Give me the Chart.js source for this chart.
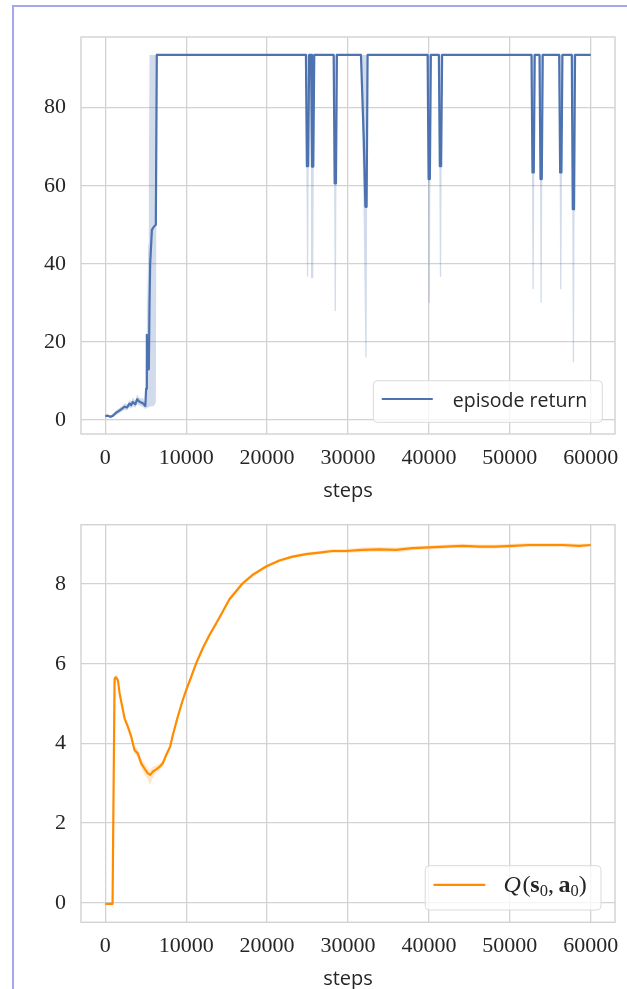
<!DOCTYPE html>
<html>
<head>
<meta charset="utf-8">
<script src="https://cdn.jsdelivr.net/npm/chart.js@4.4.1/dist/chart.umd.min.js"></script>
<style>
  html, body { margin: 0; padding: 0; background: #fff; }
  #page { position: relative; width: 627px; height: 989px; overflow: hidden; }
  #frame { position: absolute; left: 12px; top: 5px; right: -10px; bottom: -10px;
           border-left: 2px solid #a6a6ec; border-top: 2px solid #a6a6ec; }
  canvas { position: absolute; left: 0; }
</style>
</head>
<body>
<div id="page">
  <div id="frame"></div>
  <canvas id="returnChart" width="627" height="520" style="top:0px"></canvas>
  <canvas id="qChart" width="627" height="509" style="top:500px"></canvas>
</div>
<script>
// shared step axis
const xTicks = [0, 10000, 20000, 30000, 40000, 50000, 60000];
const returnTicks = [0, 20, 40, 60, 80];
const qTicks = [0, 2, 4, 6, 8];

// episode return: mean over runs and its spread
const returnSteps = [0, 300, 650, 950, 1300, 1600, 2000, 2400, 2700, 3000, 3200, 3400, 3700, 3950, 4150,
  4400, 4650, 4850, 4950, 5050, 5140, 5220, 5300, 5380, 5470, 5550, 5760, 6000, 6250, 6370,
  24800, 24920, 25080, 25200, 25430, 25550, 25710, 25830,
  28230, 28350, 28510, 28630,
  31600, 31950, 32150, 32300, 32420,
  39840, 39960, 40120, 40240,
  41230, 41350, 41510, 41630,
  52680, 52800, 52960, 53080,
  53670, 53790, 53950, 54070,
  56100, 56220, 56380, 56500,
  57660, 57780, 57940, 58060,
  60000];
const returnMean = [1.0, 1.1, 0.8, 1.1, 1.8, 2.2, 2.8, 3.4, 3.2, 4.2, 3.8, 4.6, 4.0, 5.3, 4.8,
  4.5, 4.3, 3.8, 3.6, 8.0, 21.8, 12.8, 20.5, 13.0, 30.0, 40.1, 48.7, 49.5, 50.0, 93.5,
  93.5, 65.0, 65.0, 93.5, 93.5, 64.9, 64.9, 93.5,
  93.5, 60.6, 60.6, 93.5,
  93.5, 72.0, 54.6, 54.6, 93.5,
  93.5, 61.7, 61.7, 93.5,
  93.5, 65.0, 65.0, 93.5,
  93.5, 63.4, 63.4, 93.5,
  93.5, 61.7, 61.7, 93.5,
  93.5, 63.4, 63.4, 93.5,
  93.5, 54.0, 54.0, 93.5,
  93.5];
const returnLow = [0.8, 0.8, 0.5, 0.7, 1.2, 1.5, 2.1, 2.6, 2.4, 3.3, 2.9, 3.5, 3.1, 4.0, 3.8,
  3.5, 3.3, 3.0, 2.8, 3.0, 3.0, 3.2, 3.2, 3.3, 3.4, 3.4, 3.5, 3.6, 4.5, 93.5,
  93.5, 36.7, 36.7, 93.5, 93.5, 36.3, 36.3, 93.5,
  93.5, 27.9, 27.9, 93.5,
  93.5, 50.0, 16.0, 16.0, 93.5,
  93.5, 30.0, 30.0, 93.5,
  93.5, 36.7, 36.7, 93.5,
  93.5, 33.5, 33.5, 93.5,
  93.5, 30.0, 30.0, 93.5,
  93.5, 33.5, 33.5, 93.5,
  93.5, 14.8, 14.8, 93.5,
  93.5];
const returnHigh = [1.2, 1.4, 1.1, 1.5, 2.4, 2.9, 3.5, 4.2, 4.0, 5.1, 4.7, 5.7, 4.9, 6.6, 5.8,
  5.5, 5.6, 4.8, 4.6, 20.0, 40.0, 28.0, 45.0, 60.0, 93.5, 93.5, 93.5, 93.5, 93.5, 93.5,
  93.5, 93.5, 93.5, 93.5, 93.5, 93.5, 93.5, 93.5,
  93.5, 93.5, 93.5, 93.5,
  93.5, 93.5, 93.5, 93.5, 93.5,
  93.5, 93.5, 93.5, 93.5,
  93.5, 93.5, 93.5, 93.5,
  93.5, 93.5, 93.5, 93.5,
  93.5, 93.5, 93.5, 93.5,
  93.5, 93.5, 93.5, 93.5,
  93.5, 93.5, 93.5, 93.5,
  93.5];

// value estimate of the initial state-action pair
const qSteps = [0, 450, 900, 1150, 1300, 1560, 1770, 2100, 2380, 2790, 3210, 3620, 4020, 4440, 4850,
  5260, 5550, 5880, 6300, 6700, 7110, 7530, 8020, 8350, 8960, 9580, 10000, 10620, 11230, 12050,
  12880, 13700, 14520, 15350, 16990, 18220, 19870, 21520, 23160, 24810, 26460, 28100, 29750, 31800,
  33860, 35930, 37980, 40040, 42100, 44150, 46210, 48270, 50320, 52380, 54440, 56500, 58560, 60000];
const qMean = [-0.03, -0.03, -0.03, 5.62, 5.66, 5.59, 5.26, 4.92, 4.63, 4.42, 4.17, 3.83, 3.75, 3.50, 3.37,
  3.25, 3.21, 3.29, 3.35, 3.41, 3.50, 3.71, 3.92, 4.21, 4.67, 5.09, 5.34, 5.67, 6.01, 6.39,
  6.72, 7.01, 7.31, 7.62, 8.02, 8.23, 8.44, 8.59, 8.69, 8.75, 8.79, 8.83, 8.83, 8.86,
  8.87, 8.86, 8.90, 8.92, 8.94, 8.96, 8.94, 8.94, 8.96, 8.98, 8.98, 8.98, 8.96, 8.98];
const qLow = [-0.04, -0.04, -0.04, 5.55, 5.60, 5.52, 5.19, 4.85, 4.56, 4.35, 4.09, 3.74, 3.64, 3.38, 3.22,
  3.10, 2.95, 3.14, 3.26, 3.33, 3.43, 3.64, 3.85, 4.14, 4.60, 5.02, 5.27, 5.60, 5.95, 6.33,
  6.66, 6.95, 7.25, 7.56, 7.97, 8.18, 8.40, 8.55, 8.65, 8.71, 8.75, 8.78, 8.78, 8.80,
  8.81, 8.80, 8.85, 8.87, 8.89, 8.91, 8.89, 8.89, 8.91, 8.93, 8.93, 8.93, 8.91, 8.94];
const qHigh = [-0.02, -0.02, -0.02, 5.68, 5.72, 5.66, 5.33, 4.99, 4.70, 4.49, 4.25, 3.92, 3.86, 3.60, 3.50,
  3.38, 3.32, 3.42, 3.44, 3.49, 3.57, 3.78, 3.99, 4.28, 4.74, 5.16, 5.41, 5.74, 6.07, 6.45,
  6.78, 7.07, 7.37, 7.68, 8.07, 8.28, 8.48, 8.63, 8.73, 8.79, 8.83, 8.88, 8.88, 8.92,
  8.93, 8.92, 8.95, 8.97, 8.99, 9.01, 8.99, 8.99, 9.01, 9.03, 9.03, 9.03, 9.01, 9.02];

const SERIF = '"Liberation Serif", "DejaVu Serif", serif';
const SANS = '"Open Sans", "DejaVu Sans", sans-serif';
const GRID = '#d2d2d2';
const INK = '#262626';

// light frame around the plotting area
const plotFrame = {
  id: 'plotFrame',
  beforeDatasetsDraw(chart) {
    const { ctx, chartArea: a } = chart;
    ctx.save();
    ctx.strokeStyle = GRID;
    ctx.lineWidth = 1.4;
    ctx.strokeRect(a.left, a.top, a.right - a.left, a.bottom - a.top);
    ctx.restore();
  }
};

// legend box drawn inside the lower right corner of the plot
const panelLegend = {
  id: 'panelLegend',
  afterDatasetsDraw(chart, args, o) {
    if (!o || !o.parts) return;
    const { ctx, chartArea: a } = chart;
    ctx.save();
    let textW = 0;
    for (const p of o.parts) { ctx.font = p.font; textW += ctx.measureText(p.text).width + (p.kern || 0); }
    const w = o.padL + o.lineLen + o.gap + textW + o.padR;
    const h = o.height;
    const x = a.right - o.insetR - w;
    const y = a.bottom - o.insetB - h;
    ctx.beginPath();
    ctx.roundRect(x, y, w, h, 4);
    ctx.fillStyle = 'rgba(255,255,255,0.8)';
    ctx.fill();
    ctx.strokeStyle = '#dadada';
    ctx.lineWidth = 1;
    ctx.stroke();
    const cy = y + h / 2;
    ctx.beginPath();
    ctx.moveTo(x + o.padL, cy + o.lineDy);
    ctx.lineTo(x + o.padL + o.lineLen, cy + o.lineDy);
    ctx.strokeStyle = o.color;
    ctx.lineWidth = 2.2;
    ctx.stroke();
    let tx = x + o.padL + o.lineLen + o.gap;
    ctx.fillStyle = INK;
    ctx.textBaseline = 'alphabetic';
    ctx.textAlign = 'left';
    for (const p of o.parts) {
      ctx.font = p.font;
      ctx.fillText(p.text, tx, cy + o.baseline + (p.dy || 0));
      tx += ctx.measureText(p.text).width + (p.kern || 0);
    }
    ctx.restore();
  }
};

function pts(xs, ys) { return xs.map((s, i) => ({ x: s, y: ys[i] })); }

function makePanel(id, cfg) {
  const canvas = document.getElementById(id);
  const H = canvas.height;
  return new Chart(canvas, {
    type: 'line',
    data: {
      datasets: [
        { data: pts(cfg.steps, cfg.mean), borderColor: cfg.color, borderWidth: 2.2, pointRadius: 0,
          fill: false, tension: 0, borderJoinStyle: 'round', borderCapStyle: 'butt' },
        { data: pts(cfg.steps, cfg.low), borderWidth: 0, borderColor: 'rgba(0,0,0,0)', pointRadius: 0, fill: false, tension: 0 },
        { data: pts(cfg.steps, cfg.high), borderWidth: 0, borderColor: 'rgba(0,0,0,0)', pointRadius: 0, fill: '-1',
          backgroundColor: cfg.band, tension: 0 }
      ]
    },
    options: {
      responsive: false,
      animation: false,
      devicePixelRatio: 1,
      layout: { padding: { top: cfg.top, right: 12, left: 0, bottom: 0 } },
      plugins: {
        legend: { display: false },
        tooltip: { enabled: false },
        panelLegend: cfg.legend
      },
      scales: {
        x: {
          type: 'linear', min: -3000, max: 63000,
          afterBuildTicks: s => { s.ticks = xTicks.map(v => ({ value: v })); },
          afterFit: s => { s.height = H - cfg.bottom; s.paddingLeft = 0; s.paddingRight = 0; },
          grid: { color: GRID, lineWidth: 1.3, drawTicks: false },
          border: { display: false },
          ticks: { font: { family: SERIF, size: 22 }, color: INK, padding: 11, maxRotation: 0, autoSkip: false,
                   callback: v => String(v) },
          title: { display: true, text: 'steps', color: INK, font: { family: SANS, size: 20 },
                   padding: { top: 0, bottom: H - cfg.bottom - 57 - 12 } }
        },
        y: {
          type: 'linear', min: cfg.yMin, max: cfg.yMax,
          afterBuildTicks: s => { s.ticks = cfg.yTicks.map(v => ({ value: v })); },
          afterFit: s => { s.width = 81; s.paddingTop = 0; s.paddingBottom = 0; },
          grid: { color: GRID, lineWidth: 1.3, drawTicks: false },
          border: { display: false },
          ticks: { font: { family: SERIF, size: 22 }, color: INK, padding: 15, autoSkip: false,
                   callback: v => String(v) }
        }
      }
    },
    plugins: [plotFrame, panelLegend]
  });
}

makePanel('returnChart', {
  steps: returnSteps, mean: returnMean, low: returnLow, high: returnHigh,
  color: '#4c72b0', band: 'rgba(76,114,176,0.26)',
  top: 37, bottom: 434, yMin: -3.6, yMax: 98.1, yTicks: returnTicks,
  legend: {
    color: '#4c72b0', padL: 8.4, lineLen: 51, gap: 20, padR: 15, height: 41.6,
    insetR: 12.7, insetB: 11.7, lineDy: -2.5, baseline: 5.8,
    parts: [{ text: 'episode return', font: '19.5px ' + SANS }]
  }
});

makePanel('qChart', {
  steps: qSteps, mean: qMean, low: qLow, high: qHigh,
  color: '#ff8c00', band: 'rgba(255,140,0,0.22)',
  top: 24.7, bottom: 422.3, yMin: -0.49, yMax: 9.49, yTicks: qTicks,
  legend: {
    color: '#ff8c00', padL: 8.3, lineLen: 51.7, gap: 18.3, padR: 14.3, height: 44.3,
    insetR: 14, insetB: 12.3, lineDy: -2.9, baseline: 4.5,
    parts: [
      { text: 'Q', font: 'italic 24px ' + SERIF, kern: 1.5 },
      { text: '(', font: '24px ' + SERIF },
      { text: 's', font: 'bold 24px ' + SERIF },
      { text: '0', font: '16.5px ' + SERIF, dy: 4 },
      { text: ',', font: '24px ' + SERIF, kern: 4.5 },
      { text: 'a', font: 'bold 24px ' + SERIF },
      { text: '0', font: '16.5px ' + SERIF, dy: 4 },
      { text: ')', font: '24px ' + SERIF }
    ]
  }
});
</script>
</body>
</html>
